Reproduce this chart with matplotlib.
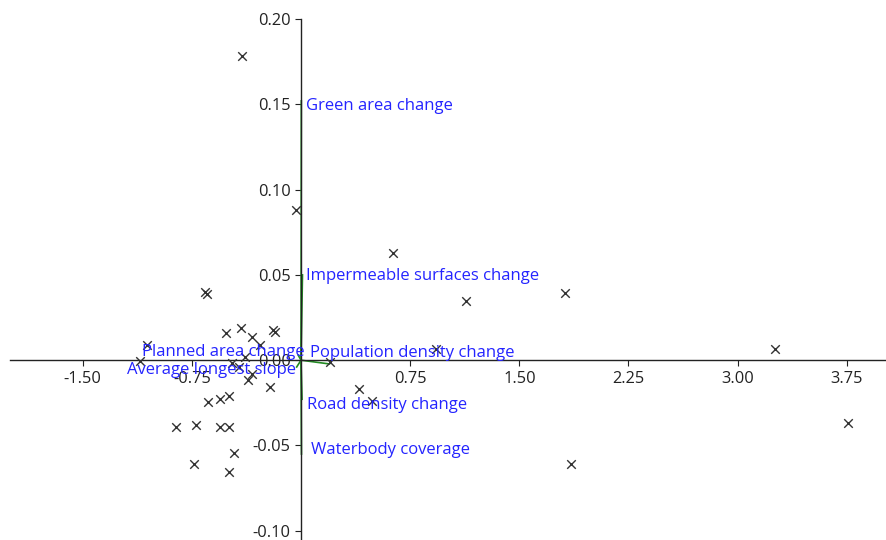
import numpy as np
import matplotlib
matplotlib.use("Agg")
from matplotlib import pyplot as plt

# PCA scores (component 1, component 2)
score_x = [-0.403, -0.038, 0.635, 1.137, 1.817, 3.260, 3.762, 1.858, 0.930, 0.401,
           0.491, 0.202, -0.657, -0.648, -1.060, -1.106, -0.515, -0.410, -0.339, -0.279,
           -0.190, -0.176, -0.384, -0.476, -0.428, -0.339, -0.366, -0.210, -0.636, -0.556,
           -0.492, -0.858, -0.719, -0.554, -0.497, -0.458, -0.735, -0.497]
score_y = [0.1783, 0.0881, 0.0629, 0.0347, 0.0394, 0.0066, -0.0367, -0.0608, 0.0066, -0.0168,
           -0.0238, -0.0010, 0.0402, 0.0388, 0.0090, -0.0002, 0.0162, 0.0187, 0.0135, 0.0090,
           0.0178, 0.0168, 0.0021, -0.0018, -0.0037, -0.0082, -0.0115, -0.0155, -0.0246, -0.0227,
           -0.0209, -0.0391, -0.0379, -0.0391, -0.0393, -0.0545, -0.0609, -0.0656]

# loadings
variables = ["Green area change", "Impermeable surfaces change", "Population density change",
             "Road density change", "Waterbody coverage", "Planned area change",
             "Average longest slope"]
load_x = [0.002, 0.010, 0.195, 0.007, 0.003, -0.020, -0.030]
load_y = [0.152, 0.050, -0.0022, -0.0229, -0.055, 0.003, -0.004]
label_x = [0.037, 0.037, 0.064, 0.044, 0.071, 0.023, -0.032]
label_y = [0.149, 0.0494, 0.0043, -0.0262, -0.0526, 0.0049, -0.0057]

xticks = [-1.50, -0.75, 0.75, 1.50, 2.25, 3.00, 3.75]
yticks = [-0.10, -0.05, 0.00, 0.05, 0.10, 0.15, 0.20]

plt.rcParams['font.family'] = ['Open Sans', 'DejaVu Sans']

fig = plt.figure(figsize=(8.86, 5.40), dpi=100)
ax = fig.add_axes([10 / 886, 0, 876 / 886, 521 / 540])

ax.scatter(score_x, score_y, marker='x', s=38, c='#333333', linewidths=1.0, zorder=3)

for i in range(len(variables)):
    ax.plot([0, load_x[i]], [0, load_y[i]], color='#228b22', lw=1.2, zorder=2)
    ha = 'left' if load_x[i] >= 0 else 'right'
    ax.text(label_x[i], label_y[i], variables[i], color='#2424ff', fontsize=12,
            ha=ha, va='center', zorder=4)

ax.set_xlim(-2.0, 4.02)
ax.set_ylim(-0.1054, 0.2)

ax.spines['left'].set_position(('data', 0))
ax.spines['bottom'].set_position(('data', 0))
ax.spines['right'].set_visible(False)
ax.spines['top'].set_visible(False)
for s in ['left', 'bottom']:
    ax.spines[s].set_color('#222222')
    ax.spines[s].set_linewidth(1.0)

ax.set_xticks(xticks)
ax.set_xticklabels(["%.2f" % t for t in xticks])
ax.set_yticks(yticks)
ax.set_yticklabels(["%.2f" % t for t in yticks])
ax.tick_params(axis='both', direction='out', length=4, colors='#222222',
               labelsize=11.8, labelcolor='#222222')
ax.tick_params(axis='x', pad=4)
ax.patch.set_alpha(0)

fig.savefig("out.png", dpi=100)
